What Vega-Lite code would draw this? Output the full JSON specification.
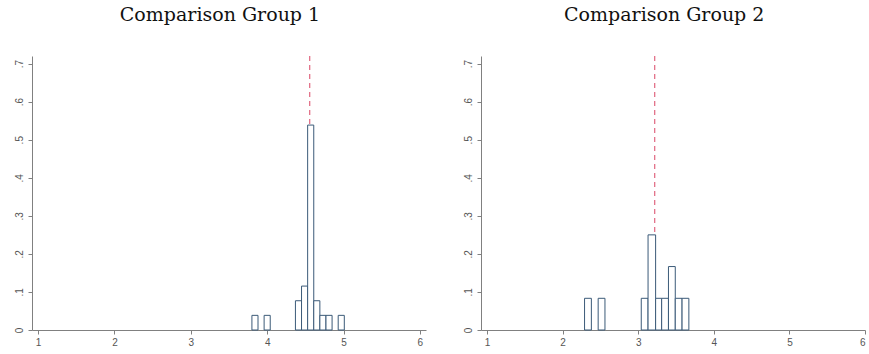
{
  "$schema": "https://vega.github.io/schema/vega-lite/v6.json",
  "background": "white",
  "padding": {"left": 14, "top": 6, "right": 0, "bottom": 0},
  "spacing": 55,
  "bounds": "flush",
  "datasets": {
    "g1": [
      {"x0": 3.80, "x1": 3.88, "frac": 0.0385},
      {"x0": 3.96, "x1": 4.04, "frac": 0.0385},
      {"x0": 4.37, "x1": 4.45, "frac": 0.0769},
      {"x0": 4.45, "x1": 4.53, "frac": 0.1154},
      {"x0": 4.53, "x1": 4.61, "frac": 0.5385},
      {"x0": 4.61, "x1": 4.69, "frac": 0.0769},
      {"x0": 4.69, "x1": 4.77, "frac": 0.0385},
      {"x0": 4.77, "x1": 4.85, "frac": 0.0385},
      {"x0": 4.93, "x1": 5.01, "frac": 0.0385}
    ],
    "g2": [
      {"x0": 2.29, "x1": 2.38, "frac": 0.0833},
      {"x0": 2.47, "x1": 2.56, "frac": 0.0833},
      {"x0": 3.04, "x1": 3.13, "frac": 0.0833},
      {"x0": 3.13, "x1": 3.23, "frac": 0.25},
      {"x0": 3.23, "x1": 3.31, "frac": 0.0833},
      {"x0": 3.31, "x1": 3.40, "frac": 0.0833},
      {"x0": 3.40, "x1": 3.49, "frac": 0.1667},
      {"x0": 3.49, "x1": 3.58, "frac": 0.0833},
      {"x0": 3.58, "x1": 3.67, "frac": 0.0833}
    ],
    "m1": [{"mean": 4.557}],
    "m2": [{"mean": 3.218}]
  },
  "config": {
    "view": {"stroke": null},
    "title": {"font": "DejaVu Serif", "fontSize": 19, "fontWeight": "normal", "color": "#111", "anchor": "middle", "frame": "bounds", "offset": 30},
    "axis": {
      "grid": false,
      "domainColor": "#808080",
      "tickColor": "#808080",
      "tickSize": 4,
      "labelFont": "Liberation Sans",
      "labelFontSize": 10,
      "labelColor": "#555",
      "title": null
    }
  },
  "hconcat": [
    {
      "title": "Comparison Group 1",
      "width": 394,
      "height": 274,
      "layer": [
        {
          "data": {"name": "m1"},
          "mark": {"type": "rule", "color": "#e0667f", "strokeDash": [5, 4], "strokeWidth": 1.2},
          "encoding": {"x": {"field": "mean", "type": "quantitative", "scale": {"domain": [0.92, 6.08], "nice": false, "zero": false}}}
        },
        {
          "data": {"name": "g1"},
          "mark": {"type": "rect", "fill": "white", "stroke": "#3b5a78", "strokeWidth": 1},
          "encoding": {
            "x": {"field": "x0", "type": "quantitative", "scale": {"domain": [0.92, 6.08], "nice": false, "zero": false},
                  "axis": {"values": [1, 2, 3, 4, 5, 6], "format": "d", "labelPadding": 3}},
            "x2": {"field": "x1"},
            "y": {"field": "frac", "type": "quantitative", "scale": {"domain": [0, 0.72], "nice": false},
                  "axis": {"values": [0, 0.1, 0.2, 0.3, 0.4, 0.5, 0.6, 0.7], "labelAngle": -90, "labelPadding": 4,
                           "labelExpr": "datum.value == 0 ? '0' : replace(format(datum.value, '.1f'), '0.', '.')"}},
            "y2": {"datum": 0}
          }
        }
      ]
    },
    {
      "title": "Comparison Group 2",
      "width": 384,
      "height": 274,
      "layer": [
        {
          "data": {"name": "m2"},
          "mark": {"type": "rule", "color": "#e0667f", "strokeDash": [5, 4], "strokeWidth": 1.2},
          "encoding": {"x": {"field": "mean", "type": "quantitative", "scale": {"domain": [0.92, 6.0], "nice": false, "zero": false}}}
        },
        {
          "data": {"name": "g2"},
          "mark": {"type": "rect", "fill": "white", "stroke": "#3b5a78", "strokeWidth": 1},
          "encoding": {
            "x": {"field": "x0", "type": "quantitative", "scale": {"domain": [0.92, 6.0], "nice": false, "zero": false},
                  "axis": {"values": [1, 2, 3, 4, 5, 6], "format": "d", "labelPadding": 3}},
            "x2": {"field": "x1"},
            "y": {"field": "frac", "type": "quantitative", "scale": {"domain": [0, 0.72], "nice": false},
                  "axis": {"values": [0, 0.1, 0.2, 0.3, 0.4, 0.5, 0.6, 0.7], "labelAngle": -90, "labelPadding": 4,
                           "labelExpr": "datum.value == 0 ? '0' : replace(format(datum.value, '.1f'), '0.', '.')"}},
            "y2": {"datum": 0}
          }
        }
      ]
    }
  ]
}
